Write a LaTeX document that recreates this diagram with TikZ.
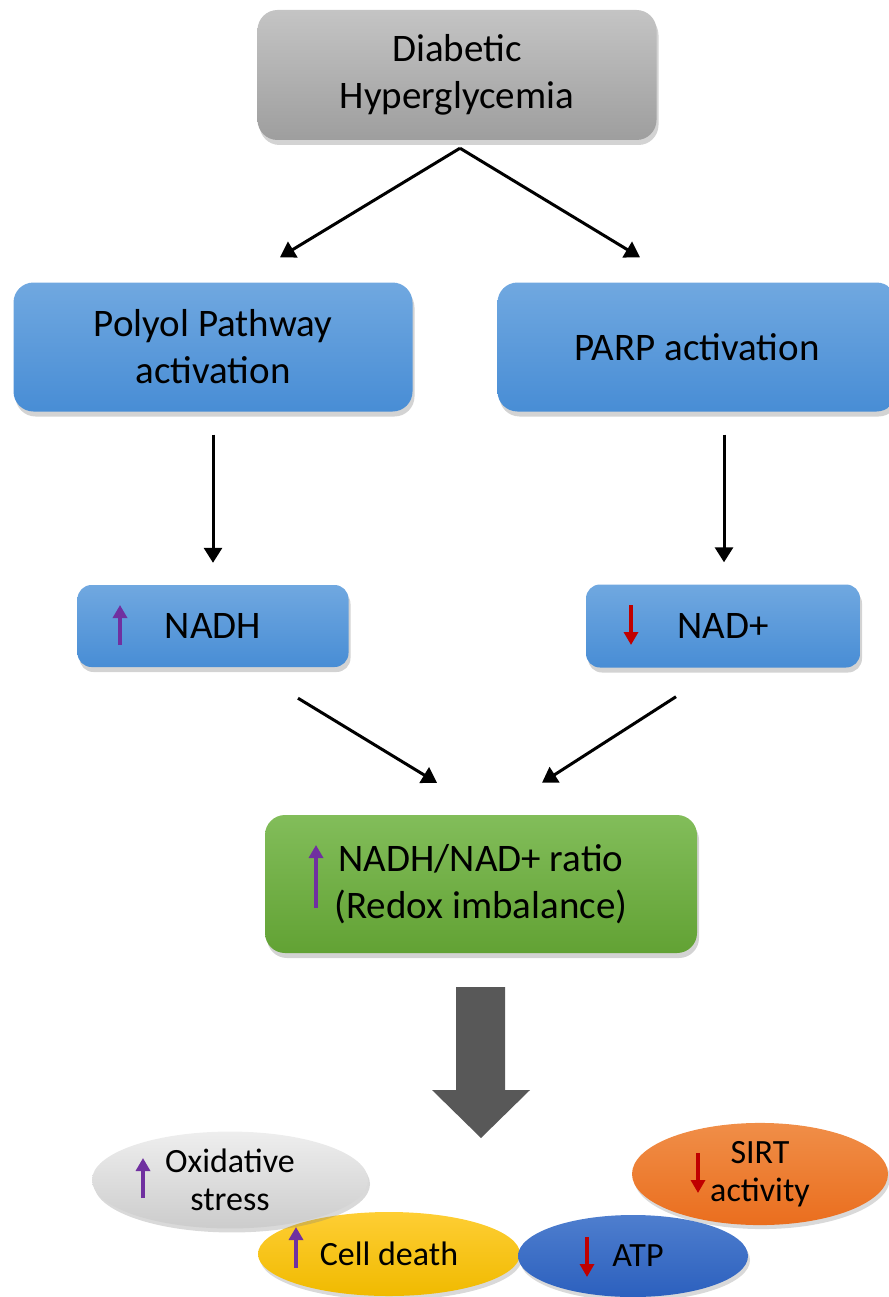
\documentclass[tikz,border=0pt]{standalone}
\usepackage{fontspec}
\setmainfont{Carlito}
\usetikzlibrary{arrows.meta,shapes.geometric,shadows}

\definecolor{grayTop}{RGB}{196,196,196}
\definecolor{grayBot}{RGB}{158,158,158}
\definecolor{blueTop}{RGB}{112,168,224}
\definecolor{blueBot}{RGB}{72,141,213}
\definecolor{greenTop}{RGB}{130,189,90}
\definecolor{greenBot}{RGB}{98,162,52}
\definecolor{upPurple}{RGB}{112,48,160}
\definecolor{downRed}{RGB}{192,0,0}
\definecolor{darkArrow}{RGB}{88,88,88}

\begin{document}
\begin{tikzpicture}[x=1pt,y=-1pt]
   \tikzstyle{box}=[rectangle, rounded corners=20pt, align=center, font=\fontsize{39}{47}\selectfont,
      drop shadow={shadow xshift=2pt, shadow yshift=-5pt, opacity=0.35}]
   \tikzstyle{graybox}=[box, top color=grayTop, bottom color=grayBot]
   \tikzstyle{bluebox}=[box, top color=blueTop, bottom color=blueBot]
   \tikzstyle{greenbox}=[box, top color=greenTop, bottom color=greenBot]
   \tikzstyle{blob}=[ellipse, align=center, font=\fontsize{34}{38}\selectfont,
      drop shadow={shadow xshift=2pt, shadow yshift=-4pt, opacity=0.3}]
   \tikzstyle{conn}=[draw, line width=3pt, -{Triangle[length=15pt, width=18pt]}]
   \tikzstyle{uparr}=[draw=upPurple, line width=3.5pt, -{Triangle[length=13pt, width=14pt]}]
   \tikzstyle{downarr}=[draw=downRed, line width=3.5pt, -{Triangle[length=13pt, width=14pt]}]

\useasboundingbox (0,0) rectangle (888,1297);

% boxes
\node[graybox, minimum width=399pt, minimum height=130pt] (diab) at (457,75) {Diabetic\\Hyperglycemia};
\node[bluebox, minimum width=399pt, minimum height=129pt] (poly) at (213,347) {Polyol Pathway\\activation};
\node[bluebox, minimum width=399pt, minimum height=129pt] (parp) at (697,347) {PARP activation};
\node[bluebox, minimum width=271pt, minimum height=82pt, rounded corners=14pt] (nadh) at (213,626) {NADH};
\node[bluebox, minimum width=274pt, minimum height=83pt, rounded corners=14pt] (nad) at (723,626) {NAD+};
\node[greenbox, minimum width=432pt, minimum height=138pt] (ratio) at (481,884) {NADH/NAD+ ratio\\(Redox imbalance)};

% arrows between boxes
\draw[conn] ([xshift=3pt,yshift=-8pt]diab.south) -- ([xshift=67pt,yshift=25pt]poly.north);
\draw[conn] ([xshift=3pt,yshift=-8pt]diab.south) -- ([xshift=-57pt,yshift=25pt]parp.north);
\draw[conn, shorten <=23pt, shorten >=22pt] (poly.south) -- (poly.south |- nadh.north);
\draw[conn, shorten <=23pt, shorten >=22pt] ([xshift=27pt]parp.south) -- ([xshift=27pt]parp.south |- nad.north);
\draw[conn] ([xshift=85pt,yshift=-31pt]nadh.south) -- ([xshift=-44pt,yshift=32pt]ratio.north);
\draw[conn] ([xshift=-47pt,yshift=-29pt]nad.south) -- ([xshift=61pt,yshift=32pt]ratio.north);

% up / down marks
\draw[uparr] (120,645) -- (120,605);
\draw[downarr] (631,605) -- (631,645);
\draw[uparr] (316,908) -- (316,845);

% big arrow
\fill[darkArrow] (456,987) -- (505,987) -- (505,1090) -- (530,1090) -- (481,1138)
   -- (432,1090) -- (456,1090) -- cycle;

% outcomes
\node[blob, top color={rgb,255:red,254;green,206;blue,52}, bottom color={rgb,255:red,240;green,186;blue,0},
   minimum width=262pt, minimum height=84pt] (death) at (389,1254) {Cell death};
\node[blob, top color={rgb,255:red,78;green,126;blue,206}, bottom color={rgb,255:red,44;green,96;blue,190},
   minimum width=230pt, minimum height=82pt] (atp) at (633,1256) {\hspace*{10pt}ATP};
\node[blob, top color={rgb,255:red,238;green,238;blue,238}, bottom color={rgb,255:red,204;green,204;blue,204},
   minimum width=276pt, minimum height=84pt] (oxid) at (230,1180) {Oxidative\\stress};
\node[blob, top color={rgb,255:red,240;green,142;blue,72}, bottom color={rgb,255:red,234;green,110;blue,30},
   minimum width=256pt, minimum height=97pt] (sirt) at (760,1174) {SIRT\\activity};

\draw[uparr] (143,1198) -- (143,1158);
\draw[uparr] (296,1268) -- (296,1227);
\draw[downarr] (587,1237) -- (587,1277);
\draw[downarr] (698,1153) -- (698,1193);

\end{tikzpicture}
\end{document}
